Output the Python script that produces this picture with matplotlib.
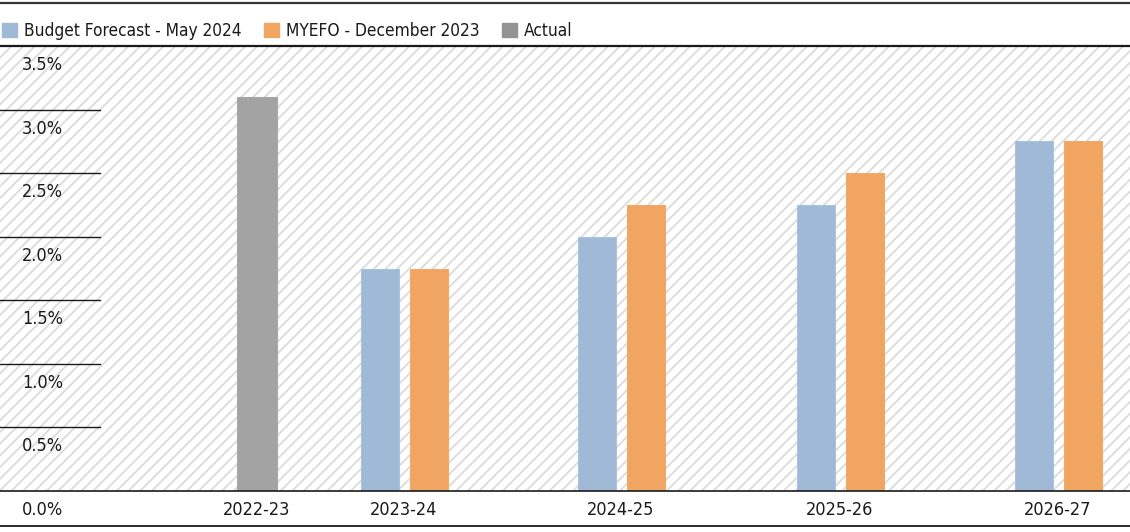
import numpy as np
import matplotlib
matplotlib.use("Agg")
import matplotlib.pyplot as plt
from matplotlib.lines import Line2D
from matplotlib.patches import Patch
from matplotlib import transforms

plt.rcParams["font.family"] = ["DejaVu Sans"]
plt.rcParams["font.stretch"] = "condensed"

years = ["2022-23", "2023-24", "2024-25", "2025-26", "2026-27"]
budget = [np.nan, 1.75, 2.0, 2.25, 2.75]      # Budget Forecast - May 2024
myefo = [np.nan, 1.75, 2.25, 2.5, 2.75]       # MYEFO - December 2023
actual = [3.1, np.nan, np.nan, np.nan, np.nan]
yticks = [0.0, 0.5, 1.0, 1.5, 2.0, 2.5, 3.0, 3.5]

# layout (x axis runs in pixel-like units across the figure width)
centers = np.array([257, 404, 621, 840, 1058])
W, H = 1130, 532
BLUE, ORANGE, GREY = "#a0b9d6", "#f0a563", "#a3a3a3"
INK = "#1a1a1a"
FS = 13

fig = plt.figure(figsize=(W / 100, H / 100), dpi=100)
rect = [0, 1 - 491 / H, 1, 445 / H]

# hatched backdrop
bg = fig.add_axes(rect, zorder=0)
bg.set_xlim(0, W); bg.set_ylim(0, 445)
for x0 in np.arange(-445, W, 11.7):
    bg.plot([x0, x0 + 445], [0, 445], color="#dbdbdb", lw=1.3)
bg.set_axis_off()

ax = fig.add_axes(rect, zorder=1)
ax.patch.set_alpha(0)
ax.set_xlim(0, W)
ax.set_ylim(0, 3.5)
for s in ax.spines.values():
    s.set_visible(False)
ax.set_yticks([])

bw, off = 38, 24.5
has = ~np.isnan(budget)
ax.bar(centers[has] - off, np.array(budget)[has], bw, color=BLUE, edgecolor="#aac3df", lw=0.8)
ax.bar(centers[has] + off, np.array(myefo)[has], bw, color=ORANGE, edgecolor="#f4a866", lw=0.8)
hasa = ~np.isnan(actual)
ax.bar(centers[hasa], np.array(actual)[hasa], 40, color=GREY, edgecolor="#a8a8a8", lw=0.8)

ax.set_xticks(centers, years)
ax.tick_params(axis="x", length=0, pad=7, labelsize=FS, labelcolor=INK)

# y labels sit just below their rule
lab_tr = transforms.offset_copy(ax.transData, fig=fig, x=0, y=-19, units="dots")
for v in yticks:
    ax.text(22, v, f"{v:.1f}%", transform=lab_tr, ha="left", va="center",
            fontsize=FS, color=INK, clip_on=False)
    if 0 < v < 3.5:
        ax.plot([0, 100], [v, v], color=INK, lw=1.0, clip_on=False)
ax.axhline(0, color=INK, lw=1.2, clip_on=False)

for y, lw, c in [(3, 1.6, "#333333"), (46, 1.6, INK), (526, 1.3, INK)]:
    fig.add_artist(Line2D([0, 1], [1 - y / H] * 2, transform=fig.transFigure,
                          color=c, lw=lw))

handles = [Patch(color=BLUE, label="Budget Forecast - May 2024"),
           Patch(color=ORANGE, label="MYEFO - December 2023"),
           Patch(color="#939393", label="Actual")]
fig.legend(handles=handles, loc="center left", bbox_to_anchor=(2 / W, 1 - 31 / H),
           ncol=3, frameon=False, fontsize=12.4, borderpad=0, borderaxespad=0,
           handlelength=0.88, handleheight=0.88, handletextpad=0.4,
           columnspacing=1.3, labelcolor=INK)

fig.savefig("out.png", dpi=100)
